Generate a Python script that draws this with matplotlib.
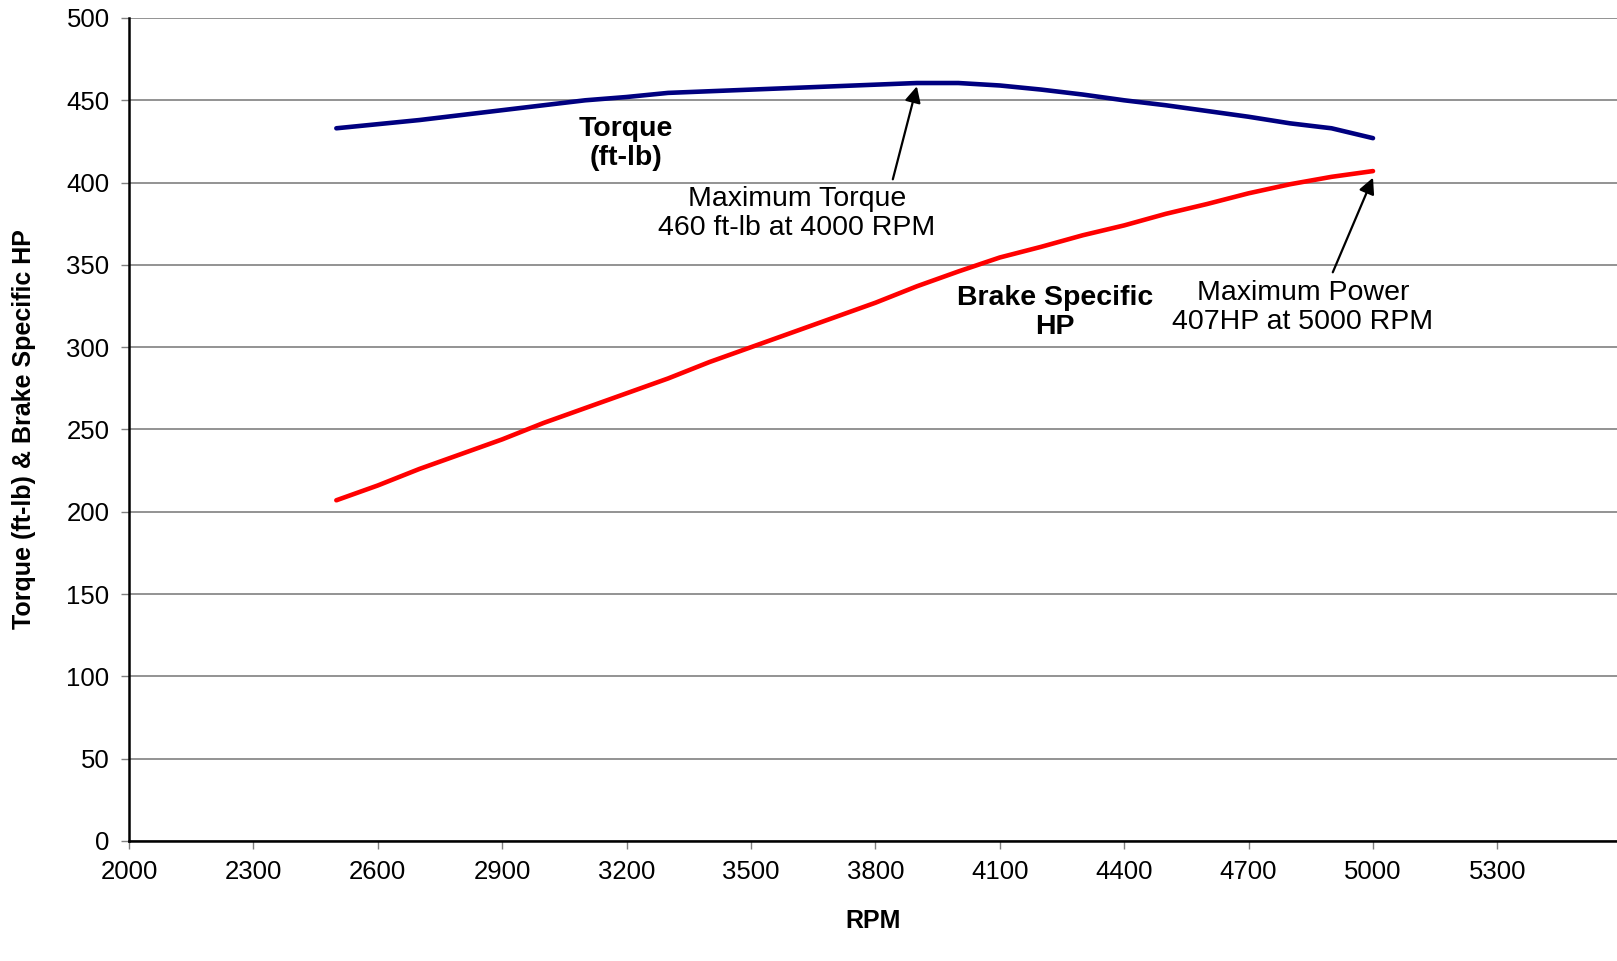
import matplotlib
matplotlib.use("Agg")
import matplotlib.pyplot as plt

plt.rcParams["font.family"] = ["Liberation Sans", "DejaVu Sans"]

rpm = [2500, 2600, 2700, 2800, 2900, 3000, 3100, 3200, 3300, 3400, 3500, 3600, 3700,
       3800, 3900, 4000, 4100, 4200, 4300, 4400, 4500, 4600, 4700, 4800, 4900, 5000]
torque = [433, 435.5, 438, 441, 444, 447, 450, 452, 454.5, 455.5, 456.5, 457.5, 458.5,
          459.5, 460.5, 460.5, 459, 456.5, 453.5, 450, 447, 443.5, 440, 436, 433, 427]
bshp = [207, 216, 226, 235, 244, 254, 263, 272, 281, 291, 300, 309, 318,
        327, 337, 346, 354.5, 361, 368, 374, 381, 387, 393.5, 399, 403.5, 407]

xticks = [2000, 2300, 2600, 2900, 3200, 3500, 3800, 4100, 4400, 4700, 5000, 5300]
yticks = [0, 50, 100, 150, 200, 250, 300, 350, 400, 450, 500]

W, H = 1617, 961
fig = plt.figure(figsize=(W / 100, H / 100), dpi=100)
ax = fig.add_axes([129 / W, 1 - 841 / H, 1 - 129 / W, (841 - 18) / H])

ax.plot(rpm, torque, color="#000080", lw=3.3, solid_capstyle="round",
        solid_joinstyle="round", zorder=3)
ax.plot(rpm, bshp, color="#ff0000", lw=3.3, solid_capstyle="round",
        solid_joinstyle="round", zorder=3)

ax.set_xlim(2000, 2000 + (W - 129) / 1244 * 3000)
ax.set_ylim(0, 500)
ax.set_xticks(xticks)
ax.set_yticks(yticks)
ax.yaxis.grid(True, color="#808080", lw=1.2)
ax.set_axisbelow(True)
for s in ("top", "right"):
    ax.spines[s].set_visible(False)
for s in ("left", "bottom"):
    ax.spines[s].set_linewidth(1.8)
    ax.spines[s].set_color("black")
ax.tick_params(axis="both", direction="out", length=6, width=1, color="#808080",
               labelsize=18.5, pad=8)

ax.set_xlabel("RPM", fontsize=18, fontweight="bold", labelpad=18)
ax.set_ylabel("Torque (ft-lb) & Brake Specific HP", fontsize=18, fontweight="bold",
              labelpad=22)

ax.text(3199, 424, "Torque\n(ft-lb)", ha="center", va="center", fontsize=20.5,
        fontweight="bold", linespacing=1.15)
ax.text(4233, 321, "Brake Specific\nHP", ha="center", va="center", fontsize=20.5,
        fontweight="bold", linespacing=1.15)

arrow = dict(arrowstyle="-|>", color="black", lw=1.6, mutation_scale=24,
             shrinkA=0, shrinkB=0)
ax.text(3611, 381, "Maximum Torque\n460 ft-lb at 4000 RPM", ha="center", va="center",
        fontsize=20.5, linespacing=1.15)
ax.annotate("", xy=(3900, 458.5), xytext=(3842, 402), arrowprops=arrow)
ax.text(4831, 324, "Maximum Power\n407HP at 5000 RPM", ha="center", va="center",
        fontsize=20.5, linespacing=1.15)
ax.annotate("", xy=(5000, 403), xytext=(4903, 345.5), arrowprops=arrow)

fig.savefig("out.png", dpi=100)
